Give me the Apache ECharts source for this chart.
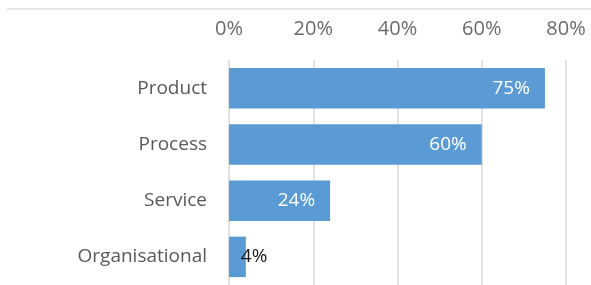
<!DOCTYPE html>
<html>
<head>
<meta charset="utf-8">
<script src="https://cdn.jsdelivr.net/npm/echarts@6/dist/echarts.min.js"></script>
<style>
  html, body { margin: 0; padding: 0; background: #fff; }
  #chart { width: 591px; height: 285px; }
</style>
</head>
<body>
<div id="chart"></div>
<script>
const categories = ['Product', 'Process', 'Service', 'Organisational'];
const values = [75, 60, 24, 4];
const ticks = [0, 20, 40, 60, 80];

const chart = echarts.init(document.getElementById('chart'));

const barData = values.map((v, i) => {
  const item = { value: v };
  if (v < 10) {
    item.label = { position: 'right', distance: -5, color: '#1a1a1a' };
  }
  return item;
});

const option = {
  animation: false,
  textStyle: { fontFamily: 'Open Sans' },
  graphic: [{
    type: 'line',
    shape: { x1: 7, y1: 9, x2: 591, y2: 9 },
    style: { stroke: '#dcdcdc', lineWidth: 1.5 }
  }],
  grid: { left: 229, right: 25, top: 60, bottom: -3 },
  xAxis: {
    type: 'value',
    position: 'top',
    min: ticks[0],
    max: ticks[ticks.length - 1],
    interval: 20,
    axisLine: { show: false },
    axisTick: { show: false },
    axisLabel: {
      formatter: '{value}%',
      color: '#6b6b6b',
      fontSize: 20,
      margin: 21
    },
    splitLine: { lineStyle: { color: '#d9d9d9', width: 1.5 } }
  },
  yAxis: {
    type: 'category',
    inverse: true,
    data: categories,
    axisLine: { show: false },
    axisTick: { show: false },
    axisLabel: { color: '#595959', fontSize: 19, margin: 22 }
  },
  series: [{
    type: 'bar',
    data: barData,
    barCategoryGap: '28%',
    itemStyle: { color: '#5b9bd5' },
    label: {
      show: true,
      position: 'insideRight',
      distance: 15,
      formatter: '{c}%',
      color: '#fff',
      fontSize: 19
    }
  }]
};

chart.setOption(option);
</script>
</body>
</html>
